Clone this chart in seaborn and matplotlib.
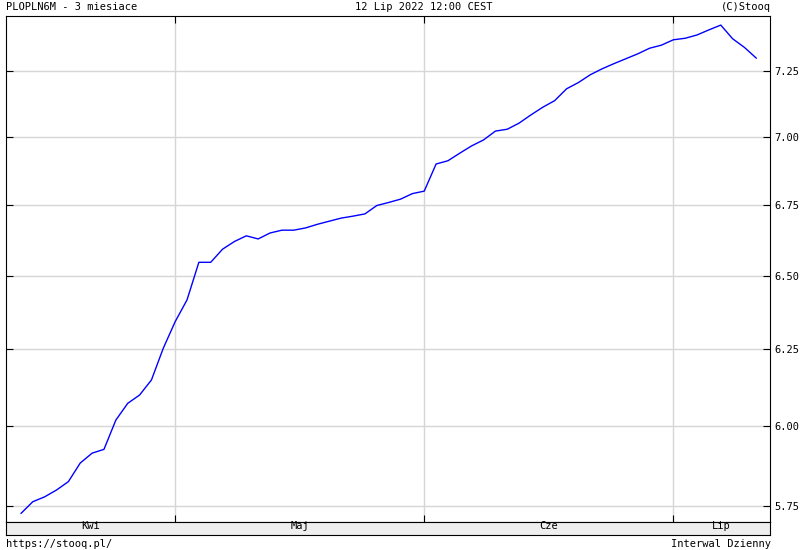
import numpy as np
import pandas as pd
import matplotlib
matplotlib.use("Agg")
import matplotlib.pyplot as plt
import seaborn as sns
from matplotlib.ticker import FixedLocator, FixedFormatter, NullLocator

# Trading days shown on the chart (Polish holidays removed)
holidays = ["2022-04-18", "2022-05-03", "2022-06-16"]
dates = pd.bdate_range("2022-04-12", "2022-07-12")
dates = dates[~dates.isin(pd.to_datetime(holidays))]

# PLOPLN6M closing values
rates = [
    5.727, 5.763, 5.778, 5.799, 5.825, 5.883, 5.914, 5.926, 6.019, 6.073,
    6.100, 6.149, 6.254, 6.343, 6.417, 6.547, 6.547, 6.593, 6.620, 6.640,
    6.629, 6.650, 6.660, 6.660, 6.668, 6.681, 6.692, 6.703, 6.710, 6.718,
    6.748, 6.759, 6.771, 6.791, 6.800, 6.899, 6.911, 6.939, 6.966, 6.988,
    7.021, 7.028, 7.051, 7.082, 7.111, 7.136, 7.181, 7.205, 7.235, 7.258,
    7.278, 7.297, 7.316, 7.338, 7.350, 7.371, 7.377, 7.390, 7.410, 7.429,
    7.375, 7.341, 7.299,
]

month_names = ["Kwi", "Maj", "Cze", "Lip"]
y_ticks = [5.75, 6.00, 6.25, 6.50, 6.75, 7.00, 7.25]

title_left = "PLOPLN6M - 3 miesiace"
title_mid = "12 Lip 2022 12:00 CEST"
title_right = "(C)Stooq"
foot_left = "https://stooq.pl/"
foot_right = "Interwal Dzienny"

df = pd.DataFrame({"n": np.arange(len(dates)), "rate": rates, "date": dates})

# first trading day of each new month -> vertical gridlines
month_starts = [i for i in range(1, len(dates)) if dates[i].month != dates[i - 1].month]

sns.set_style("white")
plt.rcParams["font.family"] = ["DejaVu Sans Mono"]
plt.rcParams["text.color"] = "black"
plt.rcParams["xtick.color"] = "black"
plt.rcParams["ytick.color"] = "black"
FS = 7.5

W, H = 800, 550
fig = plt.figure(figsize=(8, 5.5), dpi=100)
left_px, right_px, top_px, bot_px = 6, 770, 15.5, 522
ax = fig.add_axes([left_px / W, 1 - bot_px / H, (right_px - left_px) / W, (bot_px - top_px) / H])

ax.set_yscale("log")
sns.lineplot(data=df, x="n", y="rate", ax=ax, color="#0000ff", linewidth=1.0)

x_lo, x_hi = -1.26, 63.15
ax.set_xlim(x_lo, x_hi)
ax.set_ylim(5.701, 7.467)

ax.yaxis.set_major_locator(FixedLocator(y_ticks))
ax.yaxis.set_major_formatter(FixedFormatter([f"{v:.2f}" for v in y_ticks]))
ax.yaxis.set_minor_locator(NullLocator())
ax.xaxis.set_major_locator(FixedLocator(month_starts))
ax.xaxis.set_minor_locator(NullLocator())

ax.grid(True, color="#d6d6d6", linewidth=1.0)
ax.set_axisbelow(True)
ax.tick_params(axis="y", direction="in", left=True, right=True, labelleft=False,
               labelright=True, length=5, width=0.8, color="black",
               labelcolor="black", pad=3, labelsize=FS)
ax.tick_params(axis="x", direction="in", top=True, bottom=True, labelbottom=False,
               length=5, width=0.8, color="black")
for s in ax.spines.values():
    s.set_visible(True)
    s.set_color("black")
    s.set_linewidth(0.8)
ax.set_xlabel("")
ax.set_ylabel("")

# month band under the plot
band = fig.add_axes([left_px / W, 1 - 535 / H, (right_px - left_px) / W, 13 / H])
band.set_facecolor("#eeeeee")
band.set_xlim(x_lo, x_hi)
band.set_ylim(0, 1)
edges = [x_lo] + month_starts + [x_hi]
centers = [(edges[k] + edges[k + 1]) / 2 for k in range(len(month_names))]
band.set_xticks(centers)
band.set_xticklabels(month_names)
band.set_yticks([])
band.tick_params(axis="x", length=0, pad=-10, labelsize=FS, labelcolor="black")
for s in band.spines.values():
    s.set_color("black")
    s.set_linewidth(0.8)

fig.text(6 / W, 1 - 7 / H, title_left, ha="left", va="center", fontsize=FS)
fig.text(424 / W, 1 - 7 / H, title_mid, ha="center", va="center", fontsize=FS)
fig.text(771 / W, 1 - 7 / H, title_right, ha="right", va="center", fontsize=FS)
fig.text(6 / W, 1 - 544 / H, foot_left, ha="left", va="center", fontsize=FS)
fig.text(771 / W, 1 - 544 / H, foot_right, ha="right", va="center", fontsize=FS)

fig.savefig("out.png", dpi=100)
